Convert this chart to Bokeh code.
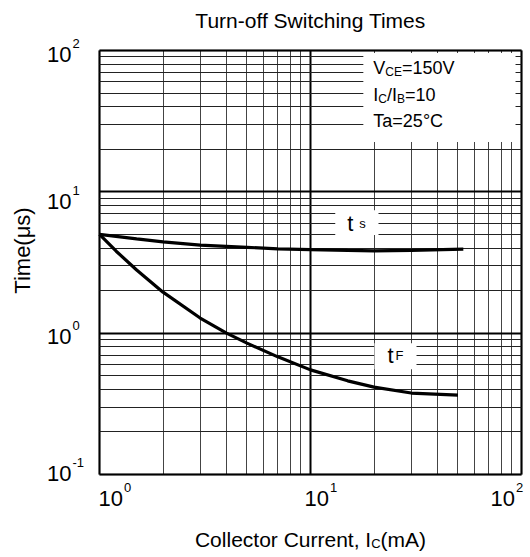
from bokeh.plotting import figure
from bokeh.models import Range1d, FixedTicker, Label, BoxAnnotation, Grid
from bokeh.embed import file_html
from bokeh.resources import INLINE

# ---------------- data ----------------
ts_current = [1, 1.5, 2, 3, 5, 7, 10, 15, 20, 30, 53]
ts_time = [5.0, 4.65, 4.43, 4.2, 4.05, 3.95, 3.9, 3.85, 3.82, 3.85, 3.93]

tf_current = [1, 1.2, 1.5, 2, 3, 4, 5, 7, 10, 15, 20, 30, 50]
tf_time = [5.0, 3.8, 2.8, 1.95, 1.28, 1.0, 0.85, 0.68, 0.55, 0.46, 0.415, 0.377, 0.364]

x_major = [1, 10, 100]
x_exp = ["0", "1", "2"]
y_major = [0.1, 1, 10, 100]
y_exp = ["-1", "0", "1", "2"]

title_text = "Turn-off Switching Times"
ylabel_text = "Time(\u03bcs)"

# ---------------- style / layout ----------------
FONT = "Liberation Sans"
FIX = 7  # baseline correction (px)
ADV = {' ': 278, ',': 278, '-': 333, '.': 278, '/': 278, '=': 584, '(': 333, ')': 333,
       '\u00b0': 400, 'A': 667, 'B': 667, 'C': 722, 'E': 667, 'F': 611, 'I': 278,
       'T': 611, 'V': 667, 'a': 556, 'c': 500, 'e': 556, 'l': 222, 'm': 833,
       'n': 556, 'o': 556, 'r': 333, 's': 500, 't': 278, 'u': 556}
for d in "0123456789":
    ADV[d] = 556


def tw(s, size):
    return sum(ADV.get(c, 556) for c in s) * size / 1000.0


W, H = 530, 557
PL, PR, PT, PB = 99, 9, 50, 83          # margins around the plot box (px)
XDEC = (W - PL - PR) / 2.0              # px per decade
YDEC = (H - PT - PB) / 3.0
x_rng = Range1d(10 ** (0 - PL / XDEC), 10 ** (2 + PR / XDEC))
y_rng = Range1d(10 ** (-1 - PB / YDEC), 10 ** (2 + PT / YDEC))

p = figure(width=W, height=H, x_axis_type="log", y_axis_type="log",
           x_range=x_rng, y_range=y_rng, output_backend="svg", toolbar_location=None,
           min_border=0, min_border_left=0, min_border_right=0, min_border_top=0,
           min_border_bottom=0)
p.background_fill_color = "white"
p.border_fill_color = "white"
p.outline_line_color = None

minor_x = [m * 10 ** e for e in range(0, 2) for m in range(2, 10)]
minor_y = [m * 10 ** e for e in range(-1, 2) for m in range(2, 10)]
p.xaxis.ticker = FixedTicker(ticks=x_major, minor_ticks=minor_x)
p.yaxis.ticker = FixedTicker(ticks=y_major, minor_ticks=minor_y)
p.xaxis.visible = False
p.yaxis.visible = False

if "cross_bounds" in Grid.properties():
    p.xgrid.cross_bounds = (y_major[0], y_major[-1])
    p.ygrid.cross_bounds = (x_major[0], x_major[-1])
    p.xgrid.grid_line_color = "black"
    p.xgrid.grid_line_width = 2
    p.xgrid.minor_grid_line_color = "#444444"
    p.xgrid.minor_grid_line_width = 1
    p.ygrid.grid_line_color = "black"
    p.ygrid.grid_line_width = 2
    p.ygrid.minor_grid_line_color = "#222222"
    p.ygrid.minor_grid_line_width = 1
else:
    p.grid.visible = False
    p.segment(x0=x_major, x1=x_major, y0=[y_major[0]] * 3, y1=[y_major[-1]] * 3,
              line_color="black", line_width=2)
    p.segment(x0=minor_x, x1=minor_x, y0=[y_major[0]] * len(minor_x), y1=[y_major[-1]] * len(minor_x),
              line_color="#444444", line_width=1)
    p.segment(x0=[x_major[0]] * 4, x1=[x_major[-1]] * 4, y0=y_major, y1=y_major,
              line_color="black", line_width=2)
    p.segment(x0=[x_major[0]] * len(minor_y), x1=[x_major[-1]] * len(minor_y), y0=minor_y, y1=minor_y,
              line_color="#222222", line_width=1)

# curves
p.line(ts_current, ts_time, line_width=3.2, line_color="black")
p.line(tf_current, tf_time, line_width=3.2, line_color="black")

# plot box
p.add_layout(BoxAnnotation(left=x_major[0], right=x_major[-1], bottom=y_major[0], top=y_major[-1],
                           fill_color=None, fill_alpha=0, line_color="black", line_width=2))

# white boxes behind annotations
INFO_BOX = dict(left=17.8, right=93.7, bottom=22.5, top=95.9)
TS_BOX = dict(left=13.1, right=21.0, bottom=4.94, top=7.42)
TF_BOX = dict(left=20.1, right=31.8, bottom=0.556, top=0.850)
for b in (INFO_BOX, TS_BOX, TF_BOX):
    p.add_layout(BoxAnnotation(fill_color="white", fill_alpha=1.0, line_color=None, **b))


def lab(x, y, text, size, xo, yo, align="left", **kw):
    p.add_layout(Label(x=x, y=y, x_offset=xo, y_offset=yo + FIX, text=text,
                       text_font=FONT, text_font_size=f"{size}px", text_color="black",
                       text_align=align, text_baseline="alphabetic", **kw))


def add_runs(x, y, runs, x0, y0, center=False):
    total = sum(tw(t, s) + g for t, s, _, g in runs)
    off = x0 - (total / 2 if center else 0)
    for text, size, dy, gap in runs:
        off += gap
        lab(x, y, text, size, off, y0 + dy)
        off += tw(text, size)


# info box text
add_runs(INFO_BOX["left"], INFO_BOX["top"], [("V", 18, 0, 0), ("CE", 12, -4, 0), ("=150V", 18, 0, 0)], 10, -22)
add_runs(INFO_BOX["left"], INFO_BOX["top"], [("I", 18, 0, 0), ("C", 12, -4, 0), ("/I", 18, 0, 0),
                                             ("B", 12, -4, 0), ("=10", 18, 0, 0)], 10, -49)
add_runs(INFO_BOX["left"], INFO_BOX["top"], [("Ta=25\u00b0C", 18, 0, 0)], 10, -75)

# curve labels
add_runs(TS_BOX["left"], TS_BOX["bottom"], [("t", 22, 0, 0), ("s", 13, 0, 6)], 12, 5)
add_runs(TF_BOX["left"], TF_BOX["bottom"], [("t", 22, 0, 0), ("F", 13, 0, 2)], 13, 7)

# tick labels
x_label_off = [-1, -6, -31]
for v, e, o in zip(x_major, x_exp, x_label_off):
    lab(v, y_major[0], "10", 22, o, -31)
    lab(v, y_major[0], e, 13, o + tw("10", 22) + 1, -20)

y_label_off = [-5.5, -10, -17, -10.5]
for v, e, o in zip(y_major, y_exp, y_label_off):
    lab(x_major[0], v, "10", 22, -28, o, align="right")
    lab(x_major[0], v, e, 13, -27, o + 11)

# title
lab(10, y_major[-1], title_text, 21, 0, 23, align="center")

# x axis label
add_runs(10, y_major[0], [("Collector Current, I", 21, 0, 0), ("C", 13, -4, 0), ("(mA)", 21, 0, 0)],
         0, -72, center=True)

# y axis label (rotated)
p.add_layout(Label(x=x_major[0], y=10 ** 0.5, x_offset=-70 - FIX, y_offset=12, text=ylabel_text,
                   text_font=FONT, text_font_size="22px", text_color="black", text_align="center",
                   text_baseline="alphabetic", angle=90, angle_units="deg"))

open("out.html", "w").write(file_html(p, INLINE))
